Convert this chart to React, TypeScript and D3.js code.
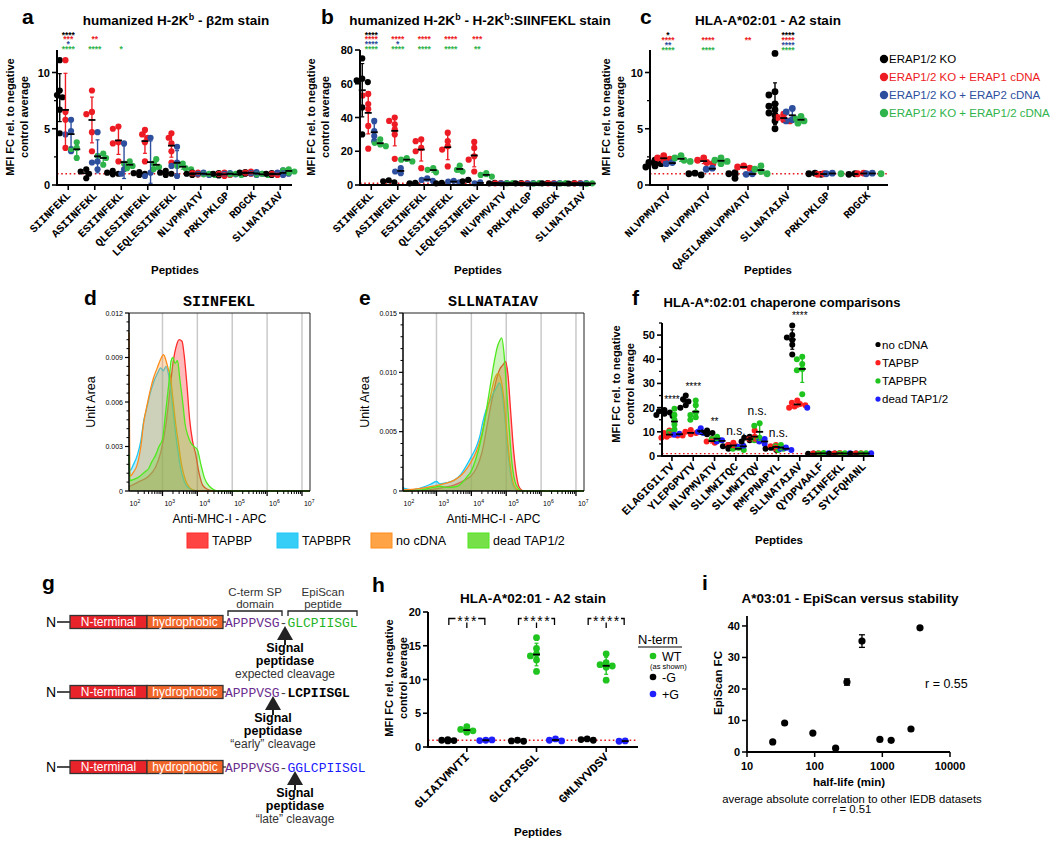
import React from 'react';
import * as d3 from 'd3';

const SANS = '"Liberation Sans", Arial, Helvetica, sans-serif';
const MONO = '"Liberation Mono", "Courier New", Courier, monospace';

// ---------------- Panel a : humanized H-2Kb - b2m stain ----------------
const peptidesAB = ['SIINFEKL', 'ASIINFEKL', 'ESIINFEKL', 'QLESIINFEKL', 'LEQLESIINFEKL', 'NLVPMVATV', 'PRKLPKLGP', 'RDGCK', 'SLLNATAIAV'];
const erapLabels = ['ERAP1/2 KO', 'ERAP1/2 KO + ERAP1 cDNA', 'ERAP1/2 KO + ERAP2 cDNA', 'ERAP1/2 KO + ERAP1/2 cDNA'];
const erapColors = ['#000000', '#ed1c24', '#2e4f9e', '#2fb34b'];
const a_KO = [[11.1, 8.4, 8.0, 7.8, 6.7, 4.6], [1.4, 1.2, 1.0, 0.6], [1.25, 1.1, 1.0, 0.95], [1.15, 1.05, 1.0, 0.9], [1.25, 1.1, 1.0, 0.9], [1.1, 1.0, 0.95, 0.9], [1.05, 1.0, 0.9, 0.85], [1.15, 1.1, 1.05, 1.0], [1.05, 1.0, 0.95, 0.9]];
const a_ERAP1 = [[11.1, 6.5, 5.8, 3.3], [8.4, 6.5, 6.3, 4.7, 3.0], [5.2, 5.0, 3.8, 3.7, 2.1], [4.9, 4.5, 4.2, 3.8, 2.1], [4.6, 4.2, 3.7, 3.0, 2.0], [1.1, 1.05, 1.0, 0.95], [1.1, 1.0, 0.9, 0.8], [1.2, 1.1, 1.05, 1.0], [1.05, 1.0, 0.95, 0.9]];
const a_ERAP2 = [[5.8, 4.8, 4.5, 3.0], [4.7, 2.1, 2.0, 1.4], [3.7, 1.4, 1.0], [4.2, 1.1, 0.8], [3.4, 2.0, 1.7, 0.8], [1.1, 1.0, 0.9], [1.05, 1.0, 0.95], [1.15, 1.05, 1.0, 0.9], [1.3, 1.1, 1.0, 0.9]];
const a_ERAP12 = [[3.8, 3.3, 3.2, 2.4], [2.8, 2.6, 2.4, 1.8], [2.1, 1.9, 1.7, 1.5], [2.3, 1.9, 1.6, 1.4], [1.9, 1.7, 1.5, 1.4], [1.0, 0.95, 0.9], [1.0, 0.95, 0.9], [1.0, 0.95, 0.9], [1.4, 1.3, 1.2, 1.1]];
const sigA = [['****', '***', '*', '****'], ['', '**', '', '****'], ['', '', '', '*']];
const ticksA = [0, 5, 10];

// ---------------- Panel b : H-2Kb:SIINFEKL stain ----------------
const b_KO = [[75, 63, 62, 61, 46, 30], [2.8, 2.2, 1.5], [1.3, 1.0], [1.3, 1.0], [3.0, 2.2], [1.3, 1.0], [1.2, 1.0], [1.2, 1.0], [1.1, 0.9]];
const b_ERAP1 = [[54, 53, 48, 45, 35, 21.5], [40, 38, 36, 33, 30, 15.5], [27, 26, 22, 20, 10], [31, 26, 23, 21, 11], [25.5, 22, 17, 15, 8], [1.2, 1.0], [1.1, 0.9], [1.2, 1.0], [1.2, 1.0]];
const b_ERAP2 = [[38, 32, 29, 26], [10, 8, 7], [4, 3, 2.5], [2.5, 2, 1.5], [1.5, 1.0], [1.2, 1.0], [1.1, 0.9], [1.1, 0.9], [1.1, 0.9]];
const b_ERAP12 = [[27, 25, 24, 23], [16, 15, 14], [10, 9, 7.5], [11.5, 9, 8], [7, 6, 5], [1.2, 1.0], [1.1, 0.9], [1.1, 0.9], [1.0, 0.8]];
const sigB = [['****', '****', '****', '****'], ['', '****', '*', '****'], ['', '****', '', '****'], ['', '****', '', '****'], ['', '***', '', '**']];
const ticksB = [0, 20, 40, 60, 80];

// ---------------- Panel c : HLA-A*02:01 - A2 stain ----------------
const peptidesC = ['NLVPMVATV', 'ANLVPMVATV', 'QAGILARNLVPMVATV', 'SLLNATAIAV', 'PRKLPKLGP', 'RDGCK'];
const c_KO = [[2.2, 2.0, 1.9, 1.85, 1.8, 1.7, 1.6], [1.05, 1.0, 0.9], [1.1, 1.0, 0.6], [11.7, 8.3, 8.0, 7.2, 7.0, 6.7, 6.4, 6.2, 5.7, 5.0], [1.05, 1.0, 0.95], [1.0, 0.95]];
const c_ERAP1 = [[2.6, 2.4, 2.3, 2.2], [2.4, 2.2, 2.0, 1.9], [1.7, 1.6, 1.5], [6.3, 6.0, 5.8, 5.7], [1.0, 0.95], [1.05, 1.0]];
const c_ERAP2 = [[2.0, 1.9], [1.5, 1.4], [1.0, 0.95], [6.8, 6.5, 5.8, 5.7], [1.05, 1.0], [1.05, 1.0]];
const c_ERAP12 = [[2.6, 2.4, 2.2, 2.1], [2.4, 2.2, 2.1, 1.9], [1.7, 1.4, 1.2, 1.0], [6.1, 5.9, 5.7, 5.5], [1.0], [1.0]];
const sigC = [['*', '****', '**', '****'], ['', '****', '', '****'], ['', '**', '', ''], ['****', '****', '****', '****']];

// ---------------- Panels d / e : histograms ----------------
const histLabels = ['TAPBP', 'TAPBPR', 'no cDNA', 'dead TAP1/2'];
const histStroke = ['#ff2a2a', '#1ec8f5', '#ff8c1a', '#4fe81f'];
const histFill = ['#ff3030', '#20c8f5', '#ff9933', '#66dd33'];
const d_TAPBP = [[2.04, 0.0003], [2.3, 0.0006], [2.6, 0.001], [2.8, 0.0016], [2.95, 0.0026], [3.1, 0.0045], [3.2, 0.0065], [3.3, 0.0086], [3.4, 0.0098], [3.48, 0.0102], [3.56, 0.0101], [3.62, 0.0092], [3.7, 0.0072], [3.78, 0.0048], [3.86, 0.0034], [3.95, 0.0025], [4.05, 0.0012], [4.15, 0.0004], [4.3, 0.0001], [4.5, 0], [7.23, 0]];
const d_TAPBPR = [[2.04, 0.0016], [2.08, 0.0014], [2.15, 0.0017], [2.29, 0.0025], [2.38, 0.0034], [2.46, 0.0047], [2.55, 0.0056], [2.65, 0.0066], [2.74, 0.0073], [2.85, 0.0079], [2.95, 0.0083], [3.02, 0.0081], [3.1, 0.0084], [3.17, 0.0079], [3.23, 0.007], [3.3, 0.0055], [3.38, 0.0038], [3.46, 0.0024], [3.53, 0.0014], [3.6, 0.0008], [3.7, 0.0003], [3.85, 0.0001], [4.0, 0], [7.23, 0]];
const d_noCDNA = [[2.04, 0.0107], [2.07, 0.001], [2.15, 0.0012], [2.29, 0.0019], [2.38, 0.003], [2.46, 0.0046], [2.55, 0.0057], [2.65, 0.0068], [2.74, 0.0076], [2.85, 0.0083], [2.95, 0.0089], [3.03, 0.0092], [3.1, 0.0088], [3.17, 0.0082], [3.23, 0.0077], [3.3, 0.0062], [3.38, 0.0045], [3.46, 0.0032], [3.53, 0.002], [3.6, 0.0012], [3.7, 0.0005], [3.85, 0.0001], [4.0, 0], [7.23, 0]];
const d_deadTAP = [[2.04, 0.0025], [2.07, 0.0007], [2.2, 0.0008], [2.35, 0.001], [2.5, 0.0013], [2.6, 0.0015], [2.7, 0.002], [2.8, 0.0024], [2.9, 0.003], [3.0, 0.0035], [3.1, 0.0055], [3.18, 0.0072], [3.25, 0.0088], [3.3, 0.009], [3.36, 0.0086], [3.43, 0.0088], [3.5, 0.0075], [3.58, 0.006], [3.65, 0.0045], [3.72, 0.0038], [3.8, 0.0033], [3.9, 0.003], [4.0, 0.0028], [4.1, 0.0018], [4.2, 0.0009], [4.35, 0.0003], [4.6, 0], [7.23, 0]];
const e_TAPBP = [[2.04, 0], [2.8, 0.0001], [3.2, 0.0003], [3.5, 0.0005], [3.8, 0.0009], [4.0, 0.0013], [4.14, 0.0019], [4.3, 0.0032], [4.45, 0.0055], [4.6, 0.0078], [4.72, 0.0094], [4.82, 0.0103], [4.9, 0.0106], [4.98, 0.0109], [5.05, 0.0098], [5.12, 0.007], [5.2, 0.0038], [5.28, 0.0016], [5.36, 0.0004], [5.5, 0], [7.23, 0]];
const e_TAPBPR = [[2.04, 0.0003], [2.1, 0.0002], [2.3, 0.0001], [2.6, 0.0003], [2.85, 0.0006], [3.0, 0.0008], [3.1, 0.0006], [3.3, 0.0007], [3.5, 0.0009], [3.7, 0.0014], [3.85, 0.0021], [4.0, 0.0029], [4.14, 0.0037], [4.25, 0.0047], [4.32, 0.0057], [4.42, 0.0068], [4.52, 0.0075], [4.62, 0.0082], [4.72, 0.0087], [4.8, 0.0091], [4.88, 0.0083], [4.95, 0.0065], [5.02, 0.0042], [5.1, 0.002], [5.18, 0.0006], [5.3, 0.0001], [5.5, 0], [7.23, 0]];
const e_noCDNA = [[2.04, 0.0001], [2.5, 0.0002], [2.9, 0.0004], [3.2, 0.0006], [3.5, 0.0009], [3.7, 0.0013], [3.85, 0.0018], [4.0, 0.0025], [4.14, 0.0033], [4.3, 0.0048], [4.42, 0.0064], [4.55, 0.008], [4.65, 0.0093], [4.76, 0.0099], [4.85, 0.0094], [4.93, 0.0078], [5.0, 0.0055], [5.08, 0.003], [5.16, 0.0012], [5.25, 0.0003], [5.4, 0], [7.23, 0]];
const e_deadTAP = [[2.04, 0], [2.6, 0.0001], [2.9, 0.0003], [3.1, 0.0004], [3.3, 0.0003], [3.6, 0.0004], [3.85, 0.0011], [4.0, 0.0017], [4.14, 0.0028], [4.3, 0.0046], [4.43, 0.0068], [4.55, 0.009], [4.65, 0.0108], [4.75, 0.0122], [4.82, 0.0127], [4.87, 0.0129], [4.93, 0.0118], [5.0, 0.009], [5.08, 0.0055], [5.16, 0.0025], [5.25, 0.0008], [5.35, 0.0002], [5.5, 0], [7.23, 0]];
const ticksD = [0, 0.003, 0.006, 0.009, 0.012];
const tickLabelsD = ['0', '0.003', '0.006', '0.009', '0.012'];
const ticksE = [0, 0.005, 0.01, 0.015];
const tickLabelsE = ['0', '0.005', '0.010', '0.015'];

// ---------------- Panel f : chaperone comparisons ----------------
const peptidesF = ['ELAGIGILTV', 'YLEPGPVTV', 'NLVPMVATV', 'SLLMWITQC', 'SLLMWITQV', 'RMFPNAPYL', 'SLLNATAIAV', 'QYDPVAALF', 'SIINFEKL', 'SYLFQHANL'];
const chapLabels = ['no cDNA', 'TAPBP', 'TAPBPR', 'dead TAP1/2'];
const chapColors = ['#000000', '#ff1f1f', '#1fc41f', '#1f1fff'];
const f_noCDNA = [[19, 18.5, 18, 17.5, 17, 16.5], [25, 23.5, 22.5, 21, 20], [10.5, 9.8, 9.5, 9], [4.5, 4, 3.5, 3], [8, 7.5, 7, 6.5, 6], [3.5, 3, 2.5], [54, 50, 49, 48, 46, 42], [1.0, 0.9], [1.0, 0.9], [1.0, 0.9]];
const f_TAPBP = [[10.5, 9.5, 9, 8.5, 8, 7.5], [10.8, 10, 9.5, 9, 8.5], [7, 6, 5.5], [5.5, 4.5, 4, 3.5], [10.5, 8, 7, 6.5], [4.5, 4, 3.5, 3], [23, 22, 21.5, 21, 20.5, 20], [1.1, 1.0], [1.2, 1.0], [1.1, 1.0]];
const f_TAPBPR = [[19.5, 17, 15, 13, 11, 10], [23, 21, 18, 17, 16, 15], [8, 7, 6.5], [3.5, 3, 2.5], [13.5, 12.5, 7.5, 6.5], [4.5, 4, 3, 2.5], [41, 40, 38, 36, 35.5, 25.5], [1.2, 1.0], [1.1, 1.0], [1.1, 1.0]];
const f_deadTAP = [[9.2, 8.8], [11.5, 10, 9.5], [6.5, 6], [4.2, 3.8], [7, 6, 5], [3.5, 3, 2.5], [20], [1.1], [1.1], [1.1]];
const sigF = ['****', '****', '**', 'n.s.', 'n.s.', 'n.s.', '****', '', '', ''];
const ticksF = [0, 10, 20, 30, 40, 50];
const minorF = [5, 15, 25, 35, 45, 55];

// ---------------- Panel h ----------------
const peptidesH = ['GLIAIVMVTI', 'GLCPIISGL', 'GMLNYVDSV'];
const ntermLabels = ['WT', '-G', '+G'];
const ntermColors = ['#1fc41f', '#000000', '#1f1fff'];
const h_WT = [[3.0, 2.6, 2.4, 2.3, 2.2], [16.2, 14.6, 13.8, 13.5, 12.9, 11.2], [13.8, 12.5, 12.2, 12.0, 11.8, 9.9]];
const h_minusG = [[1.1, 1.0, 0.95, 0.9], [1.0, 0.9, 0.85], [1.2, 1.1, 1.0]];
const h_plusG = [[1.0, 0.95, 1.05], [1.2, 1.0, 0.9], [0.9, 0.85]];
const sigH = ['***', '****', '****'];
const ticksH = [0, 5, 10, 15, 20];

// ---------------- Panel i ----------------
const halfLife = [24, 36, 94, 204, 300, 500, 920, 1350, 2650, 3600];
const episcanFC = [3.2, 9.2, 6.0, 1.2, 22.2, 35.2, 4.0, 3.7, 7.3, 39.4];
const episcanErr = [0, 0, 0, 0, 1.0, 2.0, 0, 0, 0, 0];
const ticksIy = [0, 10, 20, 30, 40];
const ticksIx = [10, 100, 1000, 10000];

type DotProps = {
  id: string;
  cats: string[];
  groups: number[][][];
  colors: string[];
  offsets: number[];
  bandRange: [number, number];
  axisX: number;
  axisRight: number;
  yMax: number;
  yTicks: number[];
  yMinor?: number[];
  yBottom: number;
  yTop: number;
  r: number;
  labelSize: number;
};

function DotPlot(p: DotProps) {
  const y = d3.scaleLinear().domain([0, p.yMax]).range([p.yBottom, p.yTop]);
  const x = d3.scaleBand().domain(p.cats).range(p.bandRange);
  const cx = (c: string) => (x(c) as number) + x.bandwidth() / 2;
  const els: React.ReactNode[] = [];
  els.push(<line key="ref" x1={p.axisX} x2={p.axisRight} y1={y(1)} y2={y(1)} stroke="#e8151b" strokeWidth={1.4} strokeDasharray="1.6,2.6" />);
  const bars: React.ReactNode[] = [];
  p.cats.forEach((c, ci) => {
    p.groups.forEach((g, gi) => {
      const vals = g[ci] || [];
      const gx = cx(c) + p.offsets[gi];
      const placed: number[][] = [];
      vals.forEach((v, vi) => {
        const py = y(v);
        let px = gx;
        for (const k of [0, -1, 1, -2, 2, -3, 3]) {
          const tx = gx + k * p.r * 0.9;
          if (placed.every(q => Math.hypot(q[0] - tx, q[1] - py) >= p.r * 1.5)) { px = tx; break; }
        }
        placed.push([px, py]);
        els.push(<circle key={`p${ci}-${gi}-${vi}`} cx={px} cy={py} r={p.r} fill={p.colors[gi]} />);
      });
      if (vals.length > 1) {
        const m = d3.mean(vals) as number;
        const sd = d3.deviation(vals) as number;
        const lo = y(Math.max(0, m - sd));
        const hi = y(m + sd);
        bars.push(<line key={`e${ci}-${gi}`} x1={gx} x2={gx} y1={lo} y2={hi} stroke={p.colors[gi]} strokeWidth={1.4} />);
        bars.push(<line key={`c1${ci}-${gi}`} x1={gx - 2} x2={gx + 2} y1={lo} y2={lo} stroke={p.colors[gi]} strokeWidth={1.2} />);
        bars.push(<line key={`c2${ci}-${gi}`} x1={gx - 2} x2={gx + 2} y1={hi} y2={hi} stroke={p.colors[gi]} strokeWidth={1.2} />);
        bars.push(<line key={`m${ci}-${gi}`} x1={gx - 3.5} x2={gx + 3.5} y1={y(m)} y2={y(m)} stroke="#000" strokeWidth={1.8} />);
      }
    });
  });
  return (
    <g key={p.id}>
      {els}
      {bars}
      <line x1={p.axisX} x2={p.axisX} y1={p.yBottom + 1} y2={p.yTop} stroke="#000" strokeWidth={2} />
      <line x1={p.axisX - 1} x2={p.axisRight} y1={p.yBottom} y2={p.yBottom} stroke="#000" strokeWidth={2} />
      {p.yTicks.map(t => (
        <g key={`yt${t}`}>
          <line x1={p.axisX - 5} x2={p.axisX} y1={y(t)} y2={y(t)} stroke="#000" strokeWidth={1.6} />
          <text x={p.axisX - 7} y={y(t) + 4} textAnchor="end" fontFamily={SANS} fontWeight="bold" fontSize={11}>{t}</text>
        </g>
      ))}
      {(p.yMinor || []).map(t => (
        <line key={`ym${t}`} x1={p.axisX - 3} x2={p.axisX} y1={y(t)} y2={y(t)} stroke="#000" strokeWidth={1.3} />
      ))}
      {p.cats.map(c => (
        <g key={`xt${c}`}>
          <line x1={cx(c)} x2={cx(c)} y1={p.yBottom} y2={p.yBottom + 5} stroke="#000" strokeWidth={1.6} />
          <text transform={`translate(${cx(c) + 3},${p.yBottom + 11}) rotate(-45)`} textAnchor="end" fontFamily={MONO} fontWeight="bold" fontSize={p.labelSize}>{c}</text>
        </g>
      ))}
    </g>
  );
}

function Stars({ cats, sig, bandRange, colors, rows }: { cats: string[]; sig: string[][]; bandRange: [number, number]; colors: string[]; rows: number[] }) {
  const x = d3.scaleBand().domain(cats).range(bandRange);
  const out: React.ReactNode[] = [];
  sig.forEach((row, ci) => {
    row.forEach((s, gi) => {
      if (!s) return;
      out.push(<text key={`${ci}-${gi}`} x={(x(cats[ci]) as number) + x.bandwidth() / 2} y={rows[gi] + 4.5} textAnchor="middle" fontFamily={SANS} fontWeight="bold" fontSize={8.5} fill={colors[gi]}>{s}</text>);
    });
  });
  return <g>{out}</g>;
}

function YLabel2({ x, y, l1, l2, size = 11 }: { x: number; y: number; l1: string; l2: string; size?: number }) {
  return (
    <text transform={`translate(${x},${y}) rotate(-90)`} textAnchor="middle" fontFamily={SANS} fontWeight="bold" fontSize={size}>
      <tspan x={0} dy={0}>{l1}</tspan>
      <tspan x={0} dy={13.5}>{l2}</tspan>
    </text>
  );
}

type HistProps = { id: string; left: number; right: number; top: number; bottom: number; yMax: number; yTicks: number[]; yTickLabels: string[]; series: number[][][] };

function Histo(p: HistProps) {
  const x = d3.scaleLinear().domain([2.04, 7.23]).range([p.left, p.right]);
  const y = d3.scaleLinear().domain([0, p.yMax]).range([p.bottom, p.top]);
  const area = d3.area<number[]>().x(d => x(d[0])).y0(p.bottom).y1(d => y(d[1])).curve(d3.curveMonotoneX);
  const line = d3.line<number[]>().x(d => x(d[0])).y(d => y(d[1])).curve(d3.curveMonotoneX);
  const minorY: number[] = [];
  for (let i = 0; i < p.yTicks.length - 1; i++) {
    const a = p.yTicks[i], b = p.yTicks[i + 1];
    for (let k = 1; k < 5; k++) minorY.push(a + (b - a) * k / 5);
  }
  const xt: { v: number; major: boolean }[] = [];
  for (let k = 2; k <= 7; k++) {
    for (let m = 1; m <= 9; m++) {
      const v = k + Math.log10(m);
      if (v >= 2.04 && v <= 7.23) xt.push({ v, major: m === 1 });
    }
  }
  return (
    <g key={p.id}>
      {[3, 4, 5, 6, 7].map(k => (
        <line key={`g${k}`} x1={x(k)} x2={x(k)} y1={p.top} y2={p.bottom} stroke="#c9c9c9" strokeWidth={1.5} />
      ))}
      {p.series.map((s, i) => (
        <g key={`s${i}`}>
          <path d={area(s) || ''} fill={histFill[i]} fillOpacity={0.33} />
          <path d={line(s) || ''} fill="none" stroke={histStroke[i]} strokeWidth={1.3} />
        </g>
      ))}
      <line x1={p.left} x2={p.right} y1={p.top} y2={p.top} stroke="#222" strokeWidth={1} />
      <line x1={p.right} x2={p.right} y1={p.top} y2={p.bottom} stroke="#222" strokeWidth={1} />
      <line x1={p.left} x2={p.left} y1={p.top} y2={p.bottom} stroke="#000" strokeWidth={1.5} />
      <line x1={p.left} x2={p.right} y1={p.bottom} y2={p.bottom} stroke="#000" strokeWidth={1.5} />
      {p.yTicks.map((t, i) => (
        <g key={`yt${i}`}>
          <line x1={p.left - 4} x2={p.left} y1={y(t)} y2={y(t)} stroke="#000" strokeWidth={1.2} />
          <text x={p.left - 6} y={y(t) + 2.5} textAnchor="end" fontFamily={SANS} fontSize={7}>{p.yTickLabels[i]}</text>
        </g>
      ))}
      {minorY.map((t, i) => (
        <line key={`ym${i}`} x1={p.left - 2.5} x2={p.left} y1={y(t)} y2={y(t)} stroke="#000" strokeWidth={1} />
      ))}
      {xt.map((t, i) => (
        <line key={`xm${i}`} x1={x(t.v)} x2={x(t.v)} y1={p.bottom} y2={p.bottom + (t.major ? 5 : 3)} stroke="#000" strokeWidth={t.major ? 1.3 : 1} />
      ))}
      {[2, 3, 4, 5, 6, 7].map(k => (
        <text key={`xl${k}`} x={x(k) + 2} y={p.bottom + 15} fontFamily={SANS} fontSize={7}>10<tspan fontSize={5} dy={-3}>{k}</tspan></text>
      ))}
      <text transform={`translate(${p.left - 34},${(p.top + p.bottom) / 2}) rotate(-90)`} textAnchor="middle" fontFamily={SANS} fontSize={12.5}>Unit Area</text>
      <text x={(p.left + p.right) / 2} y={p.bottom + 32} textAnchor="middle" fontFamily={SANS} fontSize={12}>Anti-MHC-I - APC</text>
    </g>
  );
}

function GRow({ cy, tail, tailColor, arrowX, caption }: { cy: number; tail: string; tailColor: string; arrowX: number; caption: string }) {
  const ay = cy + 4;
  return (
    <g>
      <text x={46} y={cy + 5} fontFamily={SANS} fontSize={14}>N</text>
      <line x1={57} x2={70} y1={cy} y2={cy} stroke="#222" strokeWidth={1.6} />
      <rect x={70} y={cy - 6.5} width={77} height={13} fill="#e8232a" stroke="#333" strokeWidth={1.3} />
      <rect x={147} y={cy - 6.5} width={76} height={13} fill="#f26528" stroke="#333" strokeWidth={1.3} />
      <text x={108.5} y={cy + 4.3} textAnchor="middle" fontFamily={SANS} fontSize={12} fill="#fff">N-terminal</text>
      <text x={185} y={cy + 4.3} textAnchor="middle" fontFamily={SANS} fontSize={12} fill="#fff">hydrophobic</text>
      <line x1={223} x2={226} y1={cy} y2={cy} stroke="#222" strokeWidth={1.2} />
      <text x={225} y={cy + 4.5} fontFamily={MONO} fontSize={13}>
        <tspan fill="#6a2d8e">APPPVSG</tspan>
        <tspan fill="#444">-</tspan>
        <tspan fill={tailColor} fontWeight={tailColor === '#000' ? 'bold' : 'normal'}>{tail}</tspan>
      </text>
      <path d={`M${arrowX},${ay} L${arrowX - 8},${ay + 14} L${arrowX + 8},${ay + 14} Z`} fill="#222" />
      <line x1={arrowX} x2={arrowX} y1={ay + 13} y2={ay + 19} stroke="#222" strokeWidth={2} />
      <text x={arrowX} y={ay + 26} textAnchor="middle" fontFamily={SANS} fontWeight="bold" fontSize={12.5}>Signal</text>
      <text x={arrowX} y={ay + 39} textAnchor="middle" fontFamily={SANS} fontWeight="bold" fontSize={12.5}>peptidase</text>
      <text x={arrowX} y={ay + 51.5} textAnchor="middle" fontFamily={SANS} fontSize={12} fill="#333">{caption}</text>
    </g>
  );
}

export default function App() {
  const fY = d3.scaleLinear().domain([0, 55]).range([456, 323]);
  const fX = d3.scaleBand().domain(peptidesF).range([661.3, 874.3]);
  const hX = d3.scaleBand().domain(peptidesH).range([432, 641]);
  const iX = d3.scaleLog().domain([10, 10000]).range([747, 950]);
  const iY = d3.scaleLinear().domain([0, 43]).range([752, 616.5]);

  return (
    <svg width={1050} height={844} style={{ position: 'absolute', left: 0, top: 0, background: '#fff' }} fontFamily={SANS}>
      <rect x={0} y={0} width={1050} height={844} fill="#fff" />

      {/* ---------- a ---------- */}
      <text x={22} y={24} fontWeight="bold" fontSize={21}>a</text>
      <text x={176} y={25} textAnchor="middle" fontWeight="bold" fontSize={13.5}>humanized H-2K<tspan fontSize={9} dy={-5}>b</tspan><tspan dy={5}> - β2m stain</tspan></text>
      <Stars cats={peptidesAB} sig={sigA} bandRange={[55, 293.5]} colors={erapColors} rows={[33.3, 37.8, 42.7, 47.7]} />
      <DotPlot id="a" cats={peptidesAB} groups={[a_KO, a_ERAP1, a_ERAP2, a_ERAP12]} colors={erapColors} offsets={[-8.5, -2.8, 2.8, 8.5]}
        bandRange={[55, 293.5]} axisX={57} axisRight={292} yMax={12} yTicks={ticksA} yMinor={[2.5, 7.5]} yBottom={185} yTop={50} r={3.1} labelSize={11} />
      <YLabel2 x={14} y={117} l1="MFI FC rel. to negative" l2="control average" />
      <text x={175} y={274} textAnchor="middle" fontWeight="bold" fontSize={11.5}>Peptides</text>

      {/* ---------- b ---------- */}
      <text x={321} y={24} fontWeight="bold" fontSize={21}>b</text>
      <text x={480} y={25} textAnchor="middle" fontWeight="bold" fontSize={13.5}>humanized H-2K<tspan fontSize={9} dy={-5}>b</tspan><tspan dy={5}> - H-2K</tspan><tspan fontSize={9} dy={-5}>b</tspan><tspan dy={5}>:SIINFEKL stain</tspan></text>
      <Stars cats={peptidesAB} sig={sigB} bandRange={[358, 596.5]} colors={erapColors} rows={[33.3, 37.8, 42.7, 47.7]} />
      <DotPlot id="b" cats={peptidesAB} groups={[b_KO, b_ERAP1, b_ERAP2, b_ERAP12]} colors={erapColors} offsets={[-9, -3, 3, 9]}
        bandRange={[358, 596.5]} axisX={360} axisRight={591} yMax={80} yTicks={ticksB} yBottom={185} yTop={50} r={3.1} labelSize={11} />
      <YLabel2 x={315} y={117} l1="MFI FC rel. to negative" l2="control average" />
      <text x={478} y={274} textAnchor="middle" fontWeight="bold" fontSize={11.5}>Peptides</text>

      {/* ---------- c ---------- */}
      <text x={640} y={24} fontWeight="bold" fontSize={21}>c</text>
      <text x={768} y={25} textAnchor="middle" fontWeight="bold" fontSize={13.5}>HLA-A*02:01 - A2 stain</text>
      <Stars cats={peptidesC} sig={sigC} bandRange={[648, 888]} colors={erapColors} rows={[33.3, 38.2, 43.2, 48]} />
      <DotPlot id="c" cats={peptidesC} groups={[c_KO, c_ERAP1, c_ERAP2, c_ERAP12]} colors={erapColors} offsets={[-13, -4.3, 4.3, 13]}
        bandRange={[648, 888]} axisX={650} axisRight={888} yMax={12} yTicks={ticksA} yMinor={[2.5, 7.5]} yBottom={185} yTop={50} r={3.4} labelSize={11} />
      <YLabel2 x={610} y={117} l1="MFI FC rel. to negative" l2="control average" />
      <text x={768} y={274} textAnchor="middle" fontWeight="bold" fontSize={11.5}>Peptides</text>
      {erapLabels.map((l, i) => (
        <g key={`lc${i}`}>
          <circle cx={884} cy={59 + i * 18} r={4.2} fill={erapColors[i]} />
          <text x={889} y={63 + i * 18} fontSize={11.5} fill={erapColors[i]}>{l}</text>
        </g>
      ))}

      {/* ---------- d / e ---------- */}
      <text x={84} y={305} fontWeight="bold" fontSize={21}>d</text>
      <text x={219} y={306} textAnchor="middle" fontFamily={MONO} fontWeight="bold" fontSize={15}>SIINFEKL</text>
      <Histo id="d" left={129} right={310} top={313} bottom={491} yMax={0.012} yTicks={ticksD} yTickLabels={tickLabelsD}
        series={[d_TAPBP, d_TAPBPR, d_noCDNA, d_deadTAP]} />
      <text x={359} y={305} fontWeight="bold" fontSize={21}>e</text>
      <text x={493} y={306} textAnchor="middle" fontFamily={MONO} fontWeight="bold" fontSize={15}>SLLNATAIAV</text>
      <Histo id="e" left={403} right={584} top={313} bottom={491} yMax={0.015} yTicks={ticksE} yTickLabels={tickLabelsE}
        series={[e_TAPBP, e_TAPBPR, e_noCDNA, e_deadTAP]} />
      {histLabels.map((l, i) => {
        const xs = [187, 277, 371, 468];
        return (
          <g key={`lh${i}`}>
            <rect x={xs[i]} y={533} width={21} height={15} fill={histFill[i]} fillOpacity={0.9} stroke={histStroke[i]} strokeWidth={1} />
            <text x={xs[i] + 25} y={545} fontSize={12.5}>{l}</text>
          </g>
        );
      })}

      {/* ---------- f ---------- */}
      <text x={632} y={305} fontWeight="bold" fontSize={21}>f</text>
      <text x={782} y={307} textAnchor="middle" fontWeight="bold" fontSize={13}>HLA-A*:02:01 chaperone comparisons</text>
      <DotPlot id="f" cats={peptidesF} groups={[f_noCDNA, f_TAPBP, f_TAPBPR, f_deadTAP]} colors={chapColors} offsets={[-7.5, -2.5, 2.5, 7.5]}
        bandRange={[661.3, 874.3]} axisX={662} axisRight={874} yMax={55} yTicks={ticksF} yMinor={minorF} yBottom={456} yTop={323} r={3.0} labelSize={11.5} />
      {peptidesF.map((c, i) => {
        const s = sigF[i];
        if (!s) return null;
        const all = [f_noCDNA[i], f_TAPBP[i], f_TAPBPR[i], f_deadTAP[i]].flat();
        const center = fY(d3.max(all) as number) - 12;
        const cxp = (fX(c) as number) + fX.bandwidth() / 2;
        return s === 'n.s.'
          ? <text key={`sf${i}`} x={cxp} y={center + 4} textAnchor="middle" fontSize={12}>{s}</text>
          : <text key={`sf${i}`} x={cxp} y={center + 6} textAnchor="middle" fontSize={10}>{s}</text>;
      })}
      <YLabel2 x={620} y={384} l1="MFI FC rel. to negative" l2="control average" />
      <text x={779} y={544} textAnchor="middle" fontWeight="bold" fontSize={11.5}>Peptides</text>
      {chapLabels.map((l, i) => (
        <g key={`lf${i}`}>
          <circle cx={878} cy={344.5 + i * 18.2} r={2.6} fill={chapColors[i]} />
          <text x={882} y={348.5 + i * 18.2} fontSize={11.5}>{l}</text>
        </g>
      ))}

      {/* ---------- g ---------- */}
      <text x={42} y={590} fontWeight="bold" fontSize={21}>g</text>
      <text x={255} y={596} textAnchor="middle" fontSize={11.5} fill="#333">C-term SP</text>
      <text x={255} y={608} textAnchor="middle" fontSize={11.5} fill="#333">domain</text>
      <text x={323} y={596} textAnchor="middle" fontSize={11.5} fill="#333">EpiScan</text>
      <text x={323} y={608} textAnchor="middle" fontSize={11.5} fill="#333">peptide</text>
      <path d="M228,616 L228,611 L282,611 L282,616" fill="none" stroke="#222" strokeWidth={1.3} />
      <path d="M288,616 L288,611 L357,611 L357,616" fill="none" stroke="#222" strokeWidth={1.3} />
      <GRow cy={622} tail="GLCPIISGL" tailColor="#1fb41f" arrowX={285} caption="expected cleavage" />
      <GRow cy={692} tail="LCPIISGL" tailColor="#000" arrowX={273} caption={'\u201Cearly\u201D cleavage'} />
      <GRow cy={767} tail="GGLCPIISGL" tailColor="#1a1aff" arrowX={295} caption={'\u201Clate\u201D cleavage'} />

      {/* ---------- h ---------- */}
      <text x={372} y={592} fontWeight="bold" fontSize={21}>h</text>
      <text x={533} y={603} textAnchor="middle" fontWeight="bold" fontSize={13.5}>HLA-A*02:01 - A2 stain</text>
      <DotPlot id="h" cats={peptidesH} groups={[h_WT, h_minusG, h_plusG]} colors={ntermColors} offsets={[0, -19, 19]}
        bandRange={[432, 641]} axisX={428} axisRight={638} yMax={20} yTicks={ticksH} yBottom={747} yTop={612} r={3.4} labelSize={12} />
      {peptidesH.map((c, i) => {
        const cxp = (hX(c) as number) + hX.bandwidth() / 2;
        const s = sigH[i];
        const tw = s.length * 6.9;
        const L = cxp - 18, R = cxp + 18;
        return (
          <g key={`bh${i}`}>
            <path d={`M${L},625 L${L},618.5 L${cxp - tw / 2 - 1},618.5`} fill="none" stroke="#000" strokeWidth={1.3} />
            <path d={`M${R},625 L${R},618.5 L${cxp + tw / 2 + 1},618.5`} fill="none" stroke="#000" strokeWidth={1.3} />
            <line x1={cxp} x2={cxp} y1={622.5} y2={628} stroke="#000" strokeWidth={1.3} />
            <text x={cxp + 0.75} y={625.5} textAnchor="middle" fontSize={14} letterSpacing={1.5}>{s}</text>
          </g>
        );
      })}
      <YLabel2 x={393} y={678} l1="MFI FC rel. to negative" l2="control average" />
      <text x={538} y={836} textAnchor="middle" fontWeight="bold" fontSize={11.5}>Peptides</text>
      <text x={638} y={644} fontSize={13}>N-term</text>
      <line x1={638} x2={682} y1={647} y2={647} stroke="#000" strokeWidth={1} />
      {ntermLabels.map((l, i) => {
        const ys = [656, 677, 694];
        return (
          <g key={`lhh${i}`}>
            <circle cx={653} cy={ys[i]} r={3.3} fill={ntermColors[i]} />
            <text x={662} y={ys[i] + 4.5} fontSize={12.5}>{l}</text>
          </g>
        );
      })}
      <text x={650} y={669} fontSize={7.5}>(as shown)</text>

      {/* ---------- i ---------- */}
      <text x={702} y={590} fontWeight="bold" fontSize={21}>i</text>
      <text x={850} y={603} textAnchor="middle" fontWeight="bold" fontSize={13.5}>A*03:01 - EpiScan versus stability</text>
      {halfLife.map((h, i) => (
        <g key={`pi${i}`}>
          {episcanErr[i] > 0 && (
            <g>
              <line x1={iX(h)} x2={iX(h)} y1={iY(episcanFC[i] - episcanErr[i])} y2={iY(episcanFC[i] + episcanErr[i])} stroke="#000" strokeWidth={1.3} />
              <line x1={iX(h) - 3} x2={iX(h) + 3} y1={iY(episcanFC[i] + episcanErr[i])} y2={iY(episcanFC[i] + episcanErr[i])} stroke="#000" strokeWidth={1.3} />
              <line x1={iX(h) - 3} x2={iX(h) + 3} y1={iY(episcanFC[i] - episcanErr[i])} y2={iY(episcanFC[i] - episcanErr[i])} stroke="#000" strokeWidth={1.3} />
            </g>
          )}
          <circle cx={iX(h)} cy={iY(episcanFC[i])} r={3.6} fill="#000" />
        </g>
      ))}
      <line x1={747} x2={747} y1={753} y2={616} stroke="#000" strokeWidth={1.8} />
      <line x1={746} x2={950} y1={752} y2={752} stroke="#000" strokeWidth={1.8} />
      {ticksIy.map(t => (
        <g key={`iy${t}`}>
          <line x1={742} x2={747} y1={iY(t)} y2={iY(t)} stroke="#000" strokeWidth={1.5} />
          <text x={740} y={iY(t) + 4} textAnchor="end" fontWeight="bold" fontSize={11}>{t}</text>
        </g>
      ))}
      {ticksIx.map(t => (
        <g key={`ix${t}`}>
          <line x1={iX(t)} x2={iX(t)} y1={752} y2={757} stroke="#000" strokeWidth={1.5} />
          <text x={iX(t)} y={770} textAnchor="middle" fontWeight="bold" fontSize={11}>{t}</text>
        </g>
      ))}
      <text transform="translate(722,683) rotate(-90)" textAnchor="middle" fontWeight="bold" fontSize={11.5}>EpiScan FC</text>
      <text x={849} y={786} textAnchor="middle" fontWeight="bold" fontSize={11.5}>half-life (min)</text>
      <text x={925} y={688} fontSize={12.5}>r = 0.55</text>
      <text x={852} y={803} textAnchor="middle" fontSize={11.3}>average absolute correlation to other IEDB datasets</text>
      <text x={852} y={813} textAnchor="middle" fontSize={11.3}>r = 0.51</text>
    </svg>
  );
}
